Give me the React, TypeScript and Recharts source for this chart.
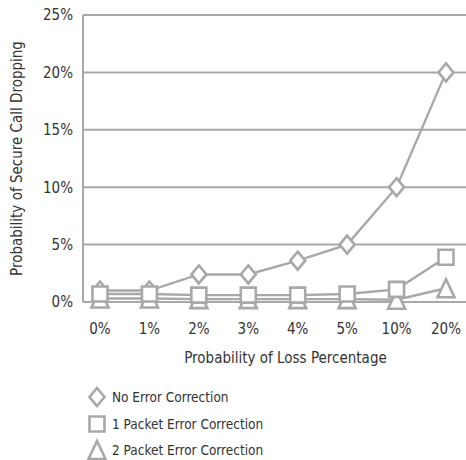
import React from 'react';
import { LineChart, Line, XAxis, YAxis, CartesianGrid, Legend } from 'recharts';

// Loss percentages along the x axis
const lossLevels = ['0%', '1%', '2%', '3%', '4%', '5%', '10%', '20%'];

// Probability of secure call dropping (%) per error-correction scheme
const noCorrection = [1.0, 1.0, 2.4, 2.4, 3.6, 5.0, 10.0, 20.0];
const onePacket = [0.7, 0.7, 0.6, 0.6, 0.6, 0.7, 1.1, 3.9];
const twoPacket = [0.3, 0.3, 0.25, 0.25, 0.25, 0.25, 0.2, 1.2];

const yTicks = [0, 5, 10, 15, 20, 25];

const seriesNames = ['No Error Correction', '1 Packet Error Correction', '2 Packet Error Correction'];

const data = lossLevels.map((loss, i) => ({
  loss,
  none: noCorrection[i],
  one: onePacket[i],
  two: twoPacket[i],
}));

const GREY = '#a8a8a8';
const TEXT = '#333333';
const FONT = '"DejaVu Sans Condensed", "Liberation Sans Narrow", sans-serif';

type ShapeKind = 'diamond' | 'square' | 'triangle';

function markerPath(kind: ShapeKind, cx: number, cy: number): string {
  if (kind === 'diamond') {
    return `M${cx},${cy - 9} L${cx + 7.5},${cy} L${cx},${cy + 9} L${cx - 7.5},${cy} Z`;
  }
  if (kind === 'square') {
    return `M${cx - 7.5},${cy - 7.5} h15 v15 h-15 Z`;
  }
  return `M${cx},${cy - 9} L${cx + 8.5},${cy + 9} L${cx - 8.5},${cy + 9} Z`;
}

const makeDot = (kind: ShapeKind) => (props: any) => {
  const { cx, cy, index } = props;
  if (cx == null || cy == null) return <g key={`${kind}-${index}`} />;
  return (
    <path
      key={`${kind}-${index}`}
      d={markerPath(kind, cx, cy)}
      fill="#ffffff"
      stroke={GREY}
      strokeWidth={2.6}
    />
  );
};

const legendKinds: ShapeKind[] = ['diamond', 'square', 'triangle'];

const LegendContent = () => (
  <div style={{ fontFamily: FONT, fontSize: 13.5, color: TEXT, width: 260 }}>
    {seriesNames.map((name, i) => (
      <div key={name} style={{ position: 'relative', height: 26.7 }}>
        <svg width={24} height={24} style={{ position: 'absolute', left: 0, top: 1 }}>
          <path d={markerPath(legendKinds[i], 12, 12)} fill="#ffffff" stroke={GREY} strokeWidth={2.6} />
        </svg>
        <span style={{ position: 'absolute', left: 27, top: 4, whiteSpace: 'nowrap', lineHeight: '18px' }}>
          {name}
        </span>
      </div>
    ))}
  </div>
);

export default function App() {
  return (
    <div style={{ position: 'absolute', left: 0, top: 0, width: 466, height: 460, background: '#ffffff' }}>
      <LineChart
        width={466}
        height={460}
        data={data}
        margin={{ top: 15, right: 0, bottom: 94, left: 0 }}
        style={{ fontFamily: FONT }}
      >
        <CartesianGrid vertical={false} stroke={GREY} strokeWidth={2} />
        <XAxis
          dataKey="loss"
          type="category"
          padding={{ left: 17, right: 20 }}
          axisLine={{ stroke: GREY, strokeWidth: 2 }}
          tickLine={false}
          tickSize={0}
          tickMargin={21}
          height={64}
          tick={{ fill: TEXT, fontSize: 15, fontFamily: FONT }}
          interval={0}
          label={{
            value: 'Probability of Loss Percentage',
            position: 'insideBottom',
            offset: 3,
            dx: 11,
            fill: TEXT,
            fontSize: 15,
            fontFamily: FONT,
          }}
        />
        <YAxis
          domain={[0, 25]}
          ticks={yTicks}
          width={83}
          axisLine={{ stroke: GREY, strokeWidth: 2 }}
          tickLine={false}
          tickSize={0}
          tickMargin={10}
          tickFormatter={(v: number) => `${v}%`}
          tick={{ fill: TEXT, fontSize: 15, fontFamily: FONT }}
          label={{
            value: 'Probability of Secure Call Dropping',
            angle: -90,
            position: 'insideLeft',
            offset: 17,
            style: { textAnchor: 'middle' },
            fill: TEXT,
            fontSize: 15,
            fontFamily: FONT,
          }}
        />
        <Legend
          layout="vertical"
          align="center"
          verticalAlign="middle"
          wrapperStyle={{ left: 85, top: 384, width: 260 }}
          content={<LegendContent />}
        />
        <Line
          dataKey="none"
          name={seriesNames[0]}
          stroke={GREY}
          strokeWidth={2.4}
          dot={makeDot('diamond')}
          isAnimationActive={false}
        />
        <Line
          dataKey="two"
          name={seriesNames[2]}
          stroke={GREY}
          strokeWidth={2.4}
          dot={makeDot('triangle')}
          isAnimationActive={false}
        />
        <Line
          dataKey="one"
          name={seriesNames[1]}
          stroke={GREY}
          strokeWidth={2.4}
          dot={makeDot('square')}
          isAnimationActive={false}
        />
      </LineChart>
    </div>
  );
}
